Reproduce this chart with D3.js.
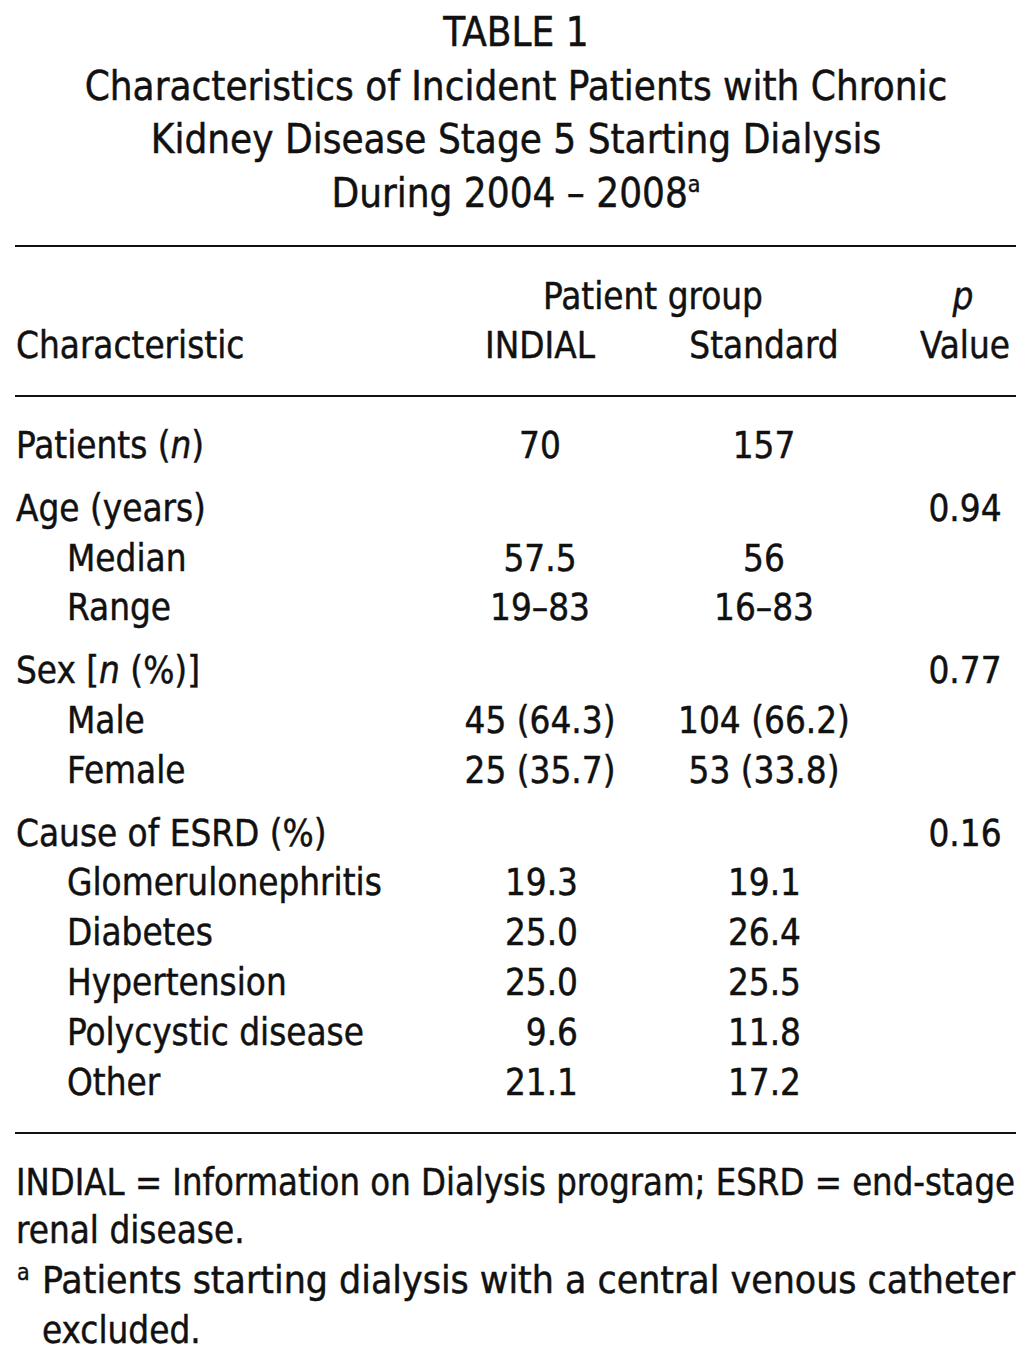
<!DOCTYPE html>
<html><head><meta charset="utf-8">
<script src="https://cdn.jsdelivr.net/npm/d3@7"></script>
<style>
html,body{margin:0;padding:0;background:#fff;}
text{font-family:"Liberation Sans Narrow","DejaVu Sans Condensed","Noto Sans",sans-serif;fill:#111;stroke:#111;stroke-width:0.45px;}
</style></head>
<body>
<script>
const titleLines = ["TABLE 1","Characteristics of Incident Patients with Chronic","Kidney Disease Stage 5 Starting Dialysis","During 2004 \u2013 2008"];
const rowLabels = ["Patients (n)","Age (years)","Median","Range","Sex [n (%)]","Male","Female","Cause of ESRD (%)","Glomerulonephritis","Diabetes","Hypertension","Polycystic disease","Other"];
const rowIndent = [0,0,1,1,0,1,1,0,1,1,1,1,1];
const rowGroup  = [0,1,1,1,2,2,2,3,3,3,3,3,3];
const indialVals   = ["70","","57.5","19\u201383","","45 (64.3)","25 (35.7)","","19.3","25.0","25.0","9.6","21.1"];
const standardVals = ["157","","56","16\u201383","","104 (66.2)","53 (33.8)","","19.1","26.4","25.5","11.8","17.2"];
const pVals = ["","0.94","","","0.77","","","0.16","","","","",""];
const footnotes = ["INDIAL = Information on Dialysis program; ESRD = end-stage","renal disease.","Patients starting dialysis with a central venous catheter","excluded."];

const W=1032,H=1362;
const svg=d3.select("body").append("svg").attr("width",W).attr("height",H);
const FS=36.5, TFS=40;

// title
const tY=d3.scaleLinear().domain([0,3]).range([46,207]);
titleLines.forEach((t,i)=>{
  const tx=svg.append("text").attr("x",W/2).attr("y",tY(i)).attr("text-anchor","middle").attr("font-size",TFS).text(t);
  if(i===3) tx.append("tspan").attr("dy",-15).attr("font-size",23).text("a");
});

// rules
[246,396,1133].forEach(y=>svg.append("line").attr("x1",15).attr("x2",1016).attr("y1",y).attr("y2",y).attr("stroke","#111").attr("stroke-width",2));

// header
const hdr=svg.append("g");
hdr.append("text").attr("x",653).attr("y",309).attr("text-anchor","middle").attr("font-size",FS).text("Patient group");
hdr.append("text").attr("x",963).attr("y",309).attr("text-anchor","middle").attr("font-size",FS).attr("font-style","italic").text("p");
hdr.append("text").attr("x",16).attr("y",358).attr("font-size",FS).text("Characteristic");
hdr.append("text").attr("x",540).attr("y",358).attr("text-anchor","middle").attr("font-size",FS).text("INDIAL");
hdr.append("text").attr("x",764).attr("y",358).attr("text-anchor","middle").attr("font-size",FS).text("Standard");
hdr.append("text").attr("x",965).attr("y",358).attr("text-anchor","middle").attr("font-size",FS).text("Value");

// rows
const yRow=d3.scaleLinear().domain([0,1]).range([458,458+49.8]);
const gGap=13;
const rowY=i=>yRow(i)+gGap*rowGroup[i];
const xCol=d3.scaleOrdinal().domain(["label","indent","indial","standard","p"]).range([16,67,540,764,965]);

rowLabels.forEach((lab,i)=>{
  const t=svg.append("text").attr("x",rowIndent[i]?xCol("indent"):xCol("label")).attr("y",rowY(i)).attr("font-size",FS);
  const m=lab.match(/^(.*?)\bn\b(.*)$/);
  if(m && (lab.startsWith("Patients")||lab.startsWith("Sex"))){
    t.append("tspan").text(m[1]);
    t.append("tspan").attr("font-style","italic").text("n");
    t.append("tspan").text(m[2]);
  } else t.text(lab);
  const causeRow=rowGroup[i]===3 && rowIndent[i]===1;
  if(indialVals[i]) svg.append("text").attr("x",causeRow?578:xCol("indial")).attr("y",rowY(i)).attr("text-anchor",causeRow?"end":"middle").attr("font-size",FS).text(indialVals[i]);
  if(standardVals[i]) svg.append("text").attr("x",causeRow?801:xCol("standard")).attr("y",rowY(i)).attr("text-anchor",causeRow?"end":"middle").attr("font-size",FS).text(standardVals[i]);
  if(pVals[i]) svg.append("text").attr("x",xCol("p")).attr("y",rowY(i)).attr("text-anchor","middle").attr("font-size",FS).text(pVals[i]);
});

// footnotes
const fy=[1195,1243,1293,1343], fx=[16,16,42,42];
footnotes.forEach((f,i)=>{
  const t=svg.append("text").attr("x",fx[i]).attr("y",fy[i]).attr("font-size",FS).text(f);
  if(i===0||i===2){ t.attr("textLength",1015-fx[i]).attr("lengthAdjust","spacingAndGlyphs"); }
});
svg.append("text").attr("x",17).attr("y",1280).attr("font-size",23).text("a");
</script>
</body></html>
